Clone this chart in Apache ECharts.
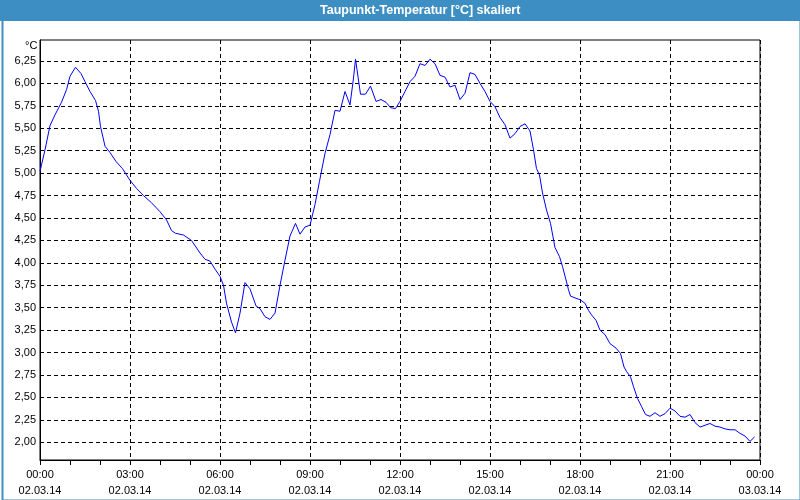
<!DOCTYPE html>
<html>
<head>
<meta charset="utf-8">
<script src="https://cdn.jsdelivr.net/npm/echarts@6/dist/echarts.min.js"></script>
<style>
html,body{margin:0;padding:0;background:#fff;}
#c{width:800px;height:500px;}
</style>
</head>
<body>
<div id="c"></div>
<script>
// Time in minutes since 00:00 on 02.03.14
var times = [0,10,20,30,43,53,60,71,82,90,100,111,117,121,130,140,152,165,180,193,207,223,240,253,263,271,287,303,320,330,340,350,360,367,373,383,391,400,410,420,432,440,450,460,470,480,490,500,511,520,530,540,550,559,570,580,590,600,610,620,627,631,641,651,661,672,682,692,701,711,720,730,740,750,760,770,780,790,800,810,820,830,840,850,860,870,880,890,900,910,920,930,940,950,960,970,980,987,993,999,1005,1013,1021,1030,1039,1045,1052,1057,1061,1070,1080,1090,1097,1103,1112,1120,1130,1140,1152,1161,1168,1173,1181,1187,1195,1203,1211,1220,1230,1240,1250,1260,1270,1280,1290,1300,1310,1320,1330,1340,1350,1360,1370,1380,1390,1400,1410,1420,1429];
var values = [5.02,5.26,5.53,5.65,5.79,5.93,6.08,6.18,6.11,6.02,5.91,5.81,5.69,5.52,5.30,5.23,5.13,5.05,4.92,4.83,4.75,4.67,4.57,4.48,4.36,4.33,4.31,4.25,4.11,4.04,4.02,3.93,3.85,3.75,3.55,3.34,3.22,3.44,3.78,3.71,3.52,3.49,3.40,3.37,3.44,3.75,4.03,4.30,4.44,4.32,4.40,4.42,4.65,4.91,5.22,5.43,5.70,5.69,5.91,5.76,6.06,6.27,5.88,5.88,5.97,5.80,5.82,5.79,5.73,5.72,5.80,5.91,6.02,6.08,6.22,6.20,6.27,6.22,6.09,6.07,5.96,5.98,5.82,5.89,6.12,6.10,6.00,5.91,5.80,5.74,5.62,5.54,5.39,5.44,5.52,5.55,5.47,5.26,5.05,4.98,4.78,4.59,4.44,4.17,4.07,3.96,3.81,3.70,3.63,3.61,3.59,3.55,3.47,3.42,3.36,3.25,3.20,3.10,3.05,2.99,2.84,2.79,2.73,2.62,2.49,2.40,2.31,2.29,2.33,2.29,2.32,2.38,2.35,2.29,2.28,2.31,2.22,2.17,2.19,2.21,2.18,2.17,2.15,2.14,2.14,2.10,2.07,2.01,2.06];
var yTicks = [2.00,2.25,2.50,2.75,3.00,3.25,3.50,3.75,4.00,4.25,4.50,4.75,5.00,5.25,5.50,5.75,6.00,6.25];
var xTickTimes = ['00:00','03:00','06:00','09:00','12:00','15:00','18:00','21:00','00:00'];
var xTickDates = ['02.03.14','02.03.14','02.03.14','02.03.14','02.03.14','02.03.14','02.03.14','02.03.14','03.03.14'];
var titleText = 'Taupunkt-Temperatur [°C] skaliert';
var unitText = '°C';

var data = times.map(function(t,i){return [t, values[i]];});
var chart = echarts.init(document.getElementById('c'), null, {renderer:'canvas'});
var font = 'Liberation Sans';
chart.setOption({
  animation:false,
  backgroundColor:'#ffffff',
  graphic:[
    {type:'rect', left:0, top:0, shape:{width:800,height:21}, style:{fill:'#3d8fc3'}, z:10},
    {type:'rect', left:0, top:0, shape:{x:1,y:1,width:798,height:498}, style:{fill:'none', stroke:'#3d8fc3', lineWidth:2}, z:10},
    {type:'text', left:320, top:4, style:{text:titleText, fill:'#ffffff', font:'bold 12.5px "Liberation Sans"'}, z:11},
    {type:'text', left:25, top:40, style:{text:unitText, fill:'#000', font:'11px "Liberation Sans"'}, z:11}
  ],
  grid:{left:40,right:40,top:40,bottom:40,show:true,borderColor:'#000',borderWidth:1,backgroundColor:'transparent',outerBoundsMode:'none',containLabel:false},
  xAxis:{
    type:'value', min:0, max:1440, interval:180,
    axisLine:{show:true,lineStyle:{color:'#000',width:1}},
    axisTick:{show:true,inside:false,length:5,lineStyle:{color:'#000'}},
    minorTick:{show:true,splitNumber:3,length:5,lineStyle:{color:'#000'}},
    axisLabel:{color:'#000',fontFamily:font,fontSize:11,lineHeight:16,margin:7,
      formatter:function(v){var i=Math.round(v/180);return xTickTimes[i]+'\n'+xTickDates[i];}},
    splitLine:{show:true,lineStyle:{color:'#000',type:[4,3],width:1}}
  },
  yAxis:{
    type:'value', min:1.803, max:6.484,
    axisLine:{show:true,lineStyle:{color:'#000',width:1}},
    axisTick:{show:false,customValues:yTicks},
    axisLabel:{color:'#000',fontFamily:font,fontSize:11,margin:4,customValues:yTicks,
      formatter:function(v){return v.toFixed(2).replace('.',',');}},
    splitLine:{show:true,lineStyle:{color:'#000',type:[4,3],width:1}}
  },
  series:[{
    type:'line', data:data, showSymbol:false, symbol:'none',
    lineStyle:{color:'#0000ff',width:1}, z:5
  }]
});
</script>
</body>
</html>
